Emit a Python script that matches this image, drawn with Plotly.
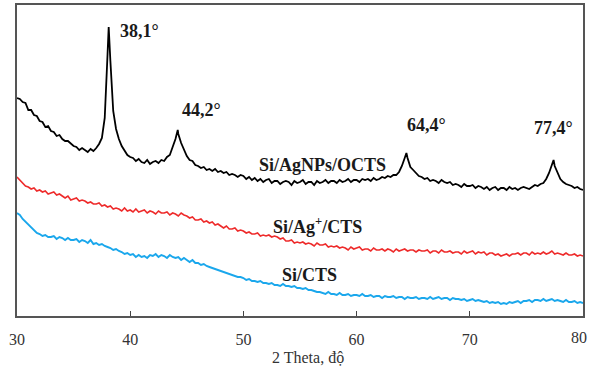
import numpy as np
import plotly.graph_objects as go

# 2-theta grid (0.25 deg steps) shared by the three patterns
theta_start, theta_end, theta_step = 30.0, 80.0, 0.25

# Si/AgNPs/OCTS (black) intensities on the grid, arbitrary units
black_vals = [
    218, 217, 214, 213, 206, 206, 201, 200, 195, 194, 189, 190,
    185, 184, 180, 181, 177, 175, 175, 172, 170, 169, 166, 168,
    166, 164, 167, 165, 168, 172, 178, 198, 262, 255, 205, 187,
    177, 170, 166, 161, 159, 158, 155, 157, 154, 153, 156, 152,
    154, 155, 153, 156, 155, 159, 161, 168, 177, 182, 173, 166,
    160, 156, 155, 151, 150, 148, 149, 146, 147, 145, 147, 144,
    145, 143, 144, 141, 142, 141, 139, 141, 140, 137, 139, 136,
    138, 135, 137, 134, 136, 137, 133, 135, 135, 132, 134, 135,
    134, 131, 135, 133, 134, 136, 132, 134, 134, 131, 135, 133,
    134, 136, 133, 135, 135, 133, 136, 134, 135, 137, 134, 136,
    136, 134, 137, 136, 137, 135, 138, 136, 137, 139, 138, 140,
    139, 141, 141, 144, 150, 158, 158, 149, 146, 143, 140, 139,
    137, 138, 135, 136, 135, 133, 136, 134, 133, 134, 131, 132,
    131, 129, 132, 130, 130, 131, 128, 130, 129, 127, 129, 126,
    128, 129, 126, 128, 128, 126, 129, 127, 128, 126, 128, 129,
    128, 127, 129, 131, 130, 132, 133, 137, 143, 152, 150, 143,
    137, 134, 132, 131, 130, 128, 129, 127, 126,
]
# peak maxima of the black pattern (between grid points)
peak_theta = [38.1, 44.2, 64.4, 77.4]
peak_height = [289, 186, 163, 156]
peak_labels = ["38,1°", "44,2°", "64,4°", "77,4°"]

# Si/Ag+/CTS (red)
red_vals = [
    139, 136, 134, 130, 129, 127, 128, 125, 126, 124, 125, 122,
    123, 124, 121, 122, 120, 118, 120, 116, 117, 118, 115, 116,
    115, 113, 114, 112, 112, 113, 110, 111, 109, 110, 107, 108,
    107, 105, 108, 105, 106, 104, 107, 104, 105, 106, 103, 105,
    104, 102, 105, 103, 103, 104, 101, 103, 102, 100, 103, 101,
    100, 98, 99, 96, 96, 97, 94, 95, 93, 94, 91, 92,
    90, 88, 90, 87, 87, 88, 85, 86, 85, 83, 84, 82,
    82, 83, 80, 81, 80, 81, 79, 80, 79, 77, 78, 75,
    75, 76, 73, 74, 73, 74, 72, 73, 72, 70, 73, 71,
    71, 72, 69, 70, 69, 70, 68, 69, 68, 66, 69, 67,
    68, 69, 66, 67, 67, 65, 68, 66, 66, 67, 65, 67,
    66, 64, 67, 65, 66, 67, 65, 66, 66, 64, 66, 65,
    65, 66, 63, 65, 65, 63, 66, 64, 64, 65, 63, 64,
    64, 62, 65, 63, 64, 65, 62, 64, 63, 64, 61, 63,
    63, 61, 62, 60, 61, 62, 60, 62, 62, 63, 61, 63,
    63, 61, 64, 62, 63, 62, 64, 62, 63, 65, 62, 63,
    62, 61, 63, 61, 61, 62, 60, 61, 60,
]

# Si/CTS (blue)
blue_vals = [
    103, 101, 97, 94, 91, 88, 85, 83, 82, 80, 81, 79,
    79, 80, 77, 79, 78, 76, 78, 76, 76, 77, 74, 76,
    75, 73, 76, 72, 73, 71, 72, 70, 69, 68, 66, 67,
    65, 64, 62, 63, 61, 62, 59, 61, 59, 60, 58, 61,
    60, 62, 59, 61, 60, 58, 61, 59, 58, 59, 56, 58,
    56, 54, 56, 53, 53, 51, 52, 50, 49, 48, 47, 46,
    45, 44, 43, 42, 41, 40, 39, 39, 38, 36, 37, 35,
    35, 34, 35, 33, 33, 32, 33, 31, 31, 30, 32, 30,
    30, 29, 30, 28, 28, 27, 28, 26, 26, 25, 24, 24,
    23, 22, 24, 22, 22, 21, 23, 21, 21, 22, 20, 21,
    21, 20, 22, 20, 20, 21, 19, 20, 20, 18, 20, 19,
    19, 20, 18, 19, 19, 17, 19, 18, 18, 19, 17, 18,
    18, 17, 19, 17, 18, 19, 17, 18, 18, 16, 18, 17,
    17, 16, 17, 15, 16, 17, 15, 16, 15, 14, 15, 13,
    14, 13, 14, 12, 13, 12, 14, 13, 14, 15, 13, 15,
    15, 16, 14, 16, 16, 15, 17, 15, 16, 17, 15, 16,
    15, 14, 16, 14, 14, 15, 13, 14, 13,
]

series_names = ["Si/AgNPs/OCTS", "Si/Ag<sup>+</sup>/CTS", "Si/CTS"]
series_colors = ["#000000", "#ee2b2b", "#1aa7ec"]
x_ticks = [30, 40, 50, 60, 70, 80]
x_ticktext = ["30", "40", "50", "60", "70", ""]   # "80" drawn separately at the edge
last_tick_label = "80"
x_title = "2 Theta, độ"

grid = np.round(np.arange(theta_start, theta_end + theta_step / 2, theta_step), 2)

# merge black grid with the peak maxima
bx = list(grid) + peak_theta
by = list(black_vals) + peak_height
order = np.argsort(bx, kind="stable")
bx = [bx[i] for i in order]
by = [by[i] for i in order]

fig = go.Figure()
fig.add_trace(go.Scatter(x=bx, y=by, mode="lines",
                         line=dict(color=series_colors[0], width=1.8), showlegend=False))
fig.add_trace(go.Scatter(x=grid, y=red_vals, mode="lines",
                         line=dict(color=series_colors[1], width=1.6), showlegend=False))
fig.add_trace(go.Scatter(x=grid, y=blue_vals, mode="lines",
                         line=dict(color=series_colors[2], width=1.9), showlegend=False))

label_font = dict(family="Liberation Serif", size=18, color="#1a1a1a")
peak_label_pos = [(38.95, 285), (44.4, 206), (64.3, 191), (75.5, 188)]
for (lx, ly), txt in zip(peak_label_pos, peak_labels):
    fig.add_annotation(x=lx, y=ly, text="<b>" + txt + "</b>", showarrow=False,
                       xanchor="left", yanchor="middle", font=label_font)

series_label_pos = [(51.2, 151), (52.4, 91), (53.2, 41)]
for (lx, ly), txt in zip(series_label_pos, series_names):
    fig.add_annotation(x=lx, y=ly, text="<b>" + txt + "</b>", showarrow=False,
                       xanchor="left", yanchor="middle", font=label_font)

# last tick label, kept inside the page
fig.add_annotation(x=1.0105, y=-0.0707, xref="paper", yref="paper", text=last_tick_label,
                   showarrow=False, xanchor="right", yanchor="middle",
                   font=dict(family="Liberation Serif", size=16, color="#333333"))

# x-axis title (slightly right of centre, as in the reference)
fig.add_annotation(x=0.5146, y=-0.135, xref="paper", yref="paper", text=x_title,
                   showarrow=False, xanchor="center", yanchor="middle",
                   font=dict(family="Liberation Serif", size=16, color="#333333"))

fig.update_layout(
    width=589, height=370,
    margin=dict(l=17, r=6, t=5, b=54),
    paper_bgcolor="white", plot_bgcolor="white",
    font=dict(family="Liberation Serif", size=16, color="#333333"),
)
fig.update_xaxes(range=[30, 80], tickvals=x_ticks, ticktext=x_ticktext,
                 ticks="inside", ticklen=5,
                 tickcolor="#444444", showline=True, linecolor="#555555", linewidth=1.5,
                 mirror=True, showgrid=False, zeroline=False, automargin=False,
                 ticklabelstandoff=8, ticklabeloverflow="allow",
                 tickfont=dict(size=16, color="#333333"))
fig.update_yaxes(range=[0, 311], showticklabels=False, ticks="", showline=True,
                 linecolor="#555555", linewidth=1.5, mirror=True, showgrid=False,
                 zeroline=False, automargin=False)

fig.write_html("out.html", config={"displayModeBar": False},
               post_script="document.body.style.margin='0';document.body.style.overflow='hidden';")
